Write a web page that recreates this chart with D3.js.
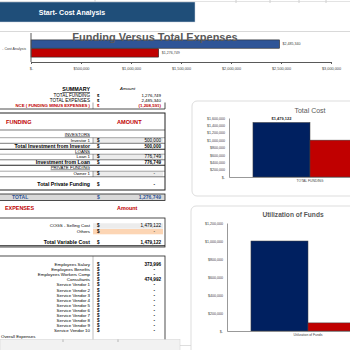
<!DOCTYPE html>
<html>
<head>
<meta charset="utf-8">
<script src="https://cdn.jsdelivr.net/npm/d3@7"></script>
<style>
  body { margin: 0; background: #fff; }
  svg { display: block; font-family: "Liberation Sans", Arial, sans-serif; }
</style>
</head>
<body>
<div id="canvas"></div>
<script>
"use strict"

// DATA
let fveCategories = ["- Cost Analysis"];
let fveSeries = ["Total Expenses", "Total Funding"];
let fveValues = [2485340, 1276749];
let fveTicks = [0, 500000, 1000000, 1500000, 2000000, 2500000, 3000000];

let costCategories = ["TOTAL FUNDING"];
let costSeries = ["Total Cost", "Total Funding"];
let costValues = [1479122, 1000000];
let costTicks = [0, 200000, 400000, 600000, 800000, 1000000, 1200000, 1400000, 1600000];

let useCategories = ["Utilization of Funds"];
let useSeries = ["Used", "Remaining"];
let useValues = [1000000, 90000];
let useTicks = [0, 200000, 400000, 600000, 800000, 1000000, 1200000];

let summaryLabels = ["TOTAL FUNDING", "TOTAL EXPENSES", "NCE ( FUNDING MINUS EXPENSES )"];
let summaryValues = ["1,276,749", "2,485,340", "(1,208,591)"];

let fundingLabels = ["INVESTORS", "Investor 1", "Total Investment from Investor", "LOANS", "Loan 1",
  "Investment from Loan", "PRIVATE FUNDING", "Owner 1", "Total Private Funding"];
let fundingValues = [null, "500,000", "500,000", null, "776,749", "776,749", null, "-", "-"];

let variableLabels = ["COGS - Selling Cost", "Others", "Total Variable Cost"];
let variableValues = ["1,479,122", "-", "1,479,122"];

let fixedLabels = ["Employees Salary", "Employees Benefits", "Employees Workers Comp", "Consultants",
  "Service Vendor 1", "Service Vendor 2", "Service Vendor 3", "Service Vendor 4", "Service Vendor 5",
  "Service Vendor 6", "Service Vendor 7", "Service Vendor 8", "Service Vendor 9", "Service Vendor 10"];
let fixedValues = ["373,996", "-", "-", "474,992", "-", "-", "-", "-", "-", "-", "-", "-", "-", "-"];

// CANVAS
let svgWidth = 350;
let svgHeight = 350;

let svg = d3.select("#canvas")
  .append("svg")
  .attr("width", svgWidth)
  .attr("height", svgHeight);

svg.append("rect")
  .attr("width", svgWidth)
  .attr("height", svgHeight)
  .attr("fill", "white");

let money = function (v) {
  return v === 0 ? "$-" : d3.format("$,")(v);
};

// spreadsheet grid bits at top
svg.append("line")
  .attr("x1", 0).attr("x2", svgWidth).attr("y1", 1.5).attr("y2", 1.5)
  .attr("stroke", "#e3e3e3");
[95, 236, 270, 299, 326].forEach(function (x) {
  svg.append("line")
    .attr("x1", x).attr("x2", x).attr("y1", 0).attr("y2", 3)
    .attr("stroke", "#d0d0d0");
});

// HEADER
svg.append("rect")
  .attr("x", -1).attr("y", 2)
  .attr("width", 196).attr("height", 20)
  .attr("fill", "#1f4e79")
  .attr("stroke", "#c9d3de").attr("stroke-width", 0.5);

svg.append("text")
  .attr("x", 72).attr("y", 14.5)
  .attr("text-anchor", "middle")
  .attr("fill", "white")
  .style("font-size", "7px")
  .style("font-weight", "bold")
  .text("Start- Cost Analysis");

// FUNDING VERSUS TOTAL EXPENSES (horizontal bars)
svg.append("line")
  .attr("x1", 0).attr("x2", svgWidth).attr("y1", 31.5).attr("y2", 31.5)
  .attr("stroke", "#d9d9d9");

let fveX = d3.scaleLinear().domain([0, 3000000]).range([31, 331]);
let fveY = d3.scaleBand().domain(fveCategories).range([38, 59]).padding(0.1);
let fveSub = d3.scaleBand().domain(fveSeries).range([0, fveY.bandwidth()]).paddingInner(0.06);
let fveColors = ["#2f5597", "#c00000"];

svg.selectAll("rect.fve")
  .data(fveValues)
  .join("rect")
  .classed("fve", true)
  .attr("x", fveX(0))
  .attr("y", function (d, i) { return fveY(fveCategories[0]) + fveSub(fveSeries[i]); })
  .attr("width", function (d) { return fveX(d) - fveX(0); })
  .attr("height", fveSub.bandwidth())
  .attr("fill", function (d, i) { return fveColors[i]; })
  .attr("stroke", "#262626")
  .attr("stroke-width", 0.6);

// title sits over the bars, like the sheet does
svg.append("text")
  .attr("x", 155).attr("y", 40.5)
  .attr("text-anchor", "middle")
  .attr("fill", "#595959")
  .style("font-size", "11px")
  .style("font-weight", "bold")
  .text("Funding Versus Total Expenses");

svg.selectAll("text.fveLabel")
  .data(fveValues)
  .join("text")
  .classed("fveLabel", true)
  .attr("x", function (d) { return fveX(d) + 3; })
  .attr("y", function (d, i) { return fveY(fveCategories[0]) + fveSub(fveSeries[i]) + fveSub.bandwidth() / 2; })
  .attr("dominant-baseline", "middle")
  .attr("fill", "#404040")
  .style("font-size", "3.6px")
  .text(function (d) { return money(d); });

let fveAxis = svg.append("g")
  .attr("transform", "translate(0,62)")
  .call(d3.axisBottom(fveX).tickValues(fveTicks).tickFormat(money).tickSize(2).tickSizeOuter(0));
fveAxis.select(".domain").attr("stroke", "#595959").attr("stroke-width", 1);
fveAxis.selectAll(".tick line").attr("stroke", "#595959");
fveAxis.selectAll("text").style("font-size", "3.8px").attr("fill", "#404040").attr("dy", "0.9em");

let fveYAxis = svg.append("g")
  .attr("transform", "translate(31,0)")
  .call(d3.axisLeft(fveY).tickSize(0).tickPadding(5));
fveYAxis.select(".domain").remove();
fveYAxis.selectAll("text").style("font-size", "3.6px").attr("fill", "#404040");
svg.append("line")
  .attr("x1", 31).attr("x2", 31).attr("y1", 33).attr("y2", 62)
  .attr("stroke", "#595959").attr("stroke-width", 1);

// LEFT TABLES
let labelX = 90;
let dollarX = 97;
let valueX = 161;
let boxRight = 165;

function addLabel(y, txt, opts) {
  opts = opts || {};
  let t = svg.append("text")
    .attr("x", opts.x !== undefined ? opts.x : labelX)
    .attr("y", y)
    .attr("text-anchor", opts.anchor || "end")
    .attr("dominant-baseline", "middle")
    .attr("fill", opts.fill || "#000")
    .style("font-size", (opts.size || 4.6) + "px")
    .style("font-weight", opts.bold ? "bold" : "normal")
    .style("font-style", opts.italic ? "italic" : "normal")
    .style("text-decoration", opts.underline ? "underline" : "none")
    .text(txt);
  return t;
}

function addValue(y, v, opts) {
  opts = opts || {};
  if (v === null) return;
  addLabel(y, "$", { x: dollarX, anchor: "start", fill: opts.fill, bold: true, size: opts.size || 4.6 });
  let isDash = v === "-";
  addLabel(y, v, { x: isDash ? valueX - 6 : valueX, anchor: "end", fill: opts.fill, bold: opts.bold, size: opts.size || 4.6 });
}

function shade(y0, y1, color) {
  svg.append("rect")
    .attr("x", 93).attr("y", y0)
    .attr("width", 70).attr("height", y1 - y0)
    .attr("fill", color);
}

function hline(y, w, x0, x1) {
  svg.append("line")
    .attr("x1", x0 === undefined ? 0 : x0).attr("x2", x1 === undefined ? boxRight : x1)
    .attr("y1", y).attr("y2", y)
    .attr("stroke", "#222").attr("stroke-width", w);
}

function vline(x, y0, y1, w) {
  svg.append("line")
    .attr("x1", x).attr("x2", x).attr("y1", y0).attr("y2", y1)
    .attr("stroke", "#222").attr("stroke-width", w);
}

// summary
addLabel(90, "SUMMARY", { bold: true, underline: true, size: 5.4 });
addLabel(89, "Amount", { x: 120, anchor: "start", italic: true, size: 4.4 });
let summaryY = [96, 100.5, 105.5];
summaryLabels.forEach(function (lab, i) {
  let red = i === 2;
  addLabel(summaryY[i], lab, { bold: red, fill: red ? "#c00000" : "#000", size: red ? 4.3 : 4.6 });
  addValue(summaryY[i], summaryValues[i], { bold: red, fill: red ? "#c00000" : "#000", size: 4.4 });
});
hline(109, 0.8);
vline(boxRight, 102.5, 109, 0.8);
vline(93, 102.5, 109, 0.4);

// funding box
svg.append("rect")
  .attr("x", -1).attr("y", 113)
  .attr("width", boxRight + 1).attr("height", 77)
  .attr("fill", "none")
  .attr("stroke", "#222").attr("stroke-width", 1);
hline(130, 0.6);
addLabel(123, "FUNDING", { x: 6, anchor: "start", bold: true, fill: "#c00000", size: 5.6 });
addLabel(123, "AMOUNT", { x: 117, anchor: "start", bold: true, fill: "#c00000", size: 5.6 });

let fundingY = [134.5, 140.5, 146.5, 151.5, 157, 162.5, 167.5, 174, 185];
fundingLabels.forEach(function (lab, i) {
  let header = fundingValues[i] === null;
  let total = lab.indexOf("Total") === 0 || lab === "Investment from Loan";
  if (lab === "Investor 1" || lab === "Loan 1" || lab === "Owner 1") {
    shade(fundingY[i] - 2.6, fundingY[i] + 2.6, "#ececec");
    hline(fundingY[i] - 2.8, 0.4);
    hline(fundingY[i] + 2.8, 0.6);
    vline(93, fundingY[i] - 2.8, fundingY[i] + 2.8, 0.4);
  }
  if (total && i < 8) hline(fundingY[i] + 2.8, 1.1);
  addLabel(fundingY[i], lab, {
    bold: total,
    underline: header,
    size: total ? 5.2 : 4.4
  });
  addValue(fundingY[i], fundingValues[i], { bold: total });
});

// total band
svg.append("rect")
  .attr("x", -1).attr("y", 194)
  .attr("width", boxRight + 1).attr("height", 6.5)
  .attr("fill", "#d9d9d9")
  .attr("stroke", "#222").attr("stroke-width", 0.8);
addLabel(197.3, "TOTAL", { x: 12, anchor: "start", bold: true, fill: "#2f5597", size: 5 });
addValue(197.3, "1,276,749", { bold: true, fill: "#2f5597", size: 5 });

// expenses
addLabel(209, "EXPENSES", { x: 5, anchor: "start", bold: true, fill: "#c00000", size: 5.4 });
addLabel(209, "Amount", { x: 117, anchor: "start", bold: true, fill: "#c00000", size: 5.4 });

svg.append("rect")
  .attr("x", -1).attr("y", 218)
  .attr("width", boxRight + 1).attr("height", 29)
  .attr("fill", "none")
  .attr("stroke", "#222").attr("stroke-width", 0.8);
let variableY = [226, 231.5, 243];
shade(223.3, 228.7, "#ececec");
shade(229, 234.3, "#fcd5b4");
variableLabels.forEach(function (lab, i) {
  let total = i === 2;
  if (total) hline(variableY[i] + 2.8, 1.1, 0, boxRight);
  addLabel(variableY[i], lab, { bold: total, size: total ? 5.2 : 4.4 });
  addValue(variableY[i], variableValues[i], { bold: total });
});

// fixed costs box
svg.append("rect")
  .attr("x", -1).attr("y", 256)
  .attr("width", boxRight + 1).attr("height", 100)
  .attr("fill", "none")
  .attr("stroke", "#222").attr("stroke-width", 0.8);
vline(93, 256, 340, 0.3);
let fixedY = d3.range(fixedLabels.length).map(function (i) { return 265 + i * 5.07; });
fixedLabels.forEach(function (lab, i) {
  addLabel(fixedY[i], lab, { size: 4.4 });
  addValue(fixedY[i], fixedValues[i], { bold: true });
});
addLabel(336.5, "Overall Expenses", { x: 1, anchor: "start", size: 4.4 });

// bottom spreadsheet strip
svg.append("rect")
  .attr("x", 0).attr("y", 339.5)
  .attr("width", 180).attr("height", 11)
  .attr("fill", "#f2f2f2")
  .attr("stroke", "#d0d0d0").attr("stroke-width", 0.5);
[63, 118].forEach(function (x) {
  vline(x, 339.5, 342, 0.3);
});
svg.append("line")
  .attr("x1", 180).attr("x2", 283).attr("y1", 345.5).attr("y2", 345.5)
  .attr("stroke", "#c8c8c8").attr("stroke-width", 0.6);

// VERTICAL BAR CHART helper
function columnChart(opts) {
  svg.append("rect")
    .attr("x", opts.box[0]).attr("y", opts.box[1])
    .attr("width", opts.box[2]).attr("height", opts.box[3])
    .attr("rx", 5)
    .attr("fill", "white")
    .attr("stroke", "#d4d4d4").attr("stroke-width", 0.8);

  svg.append("text")
    .attr("x", opts.titleX).attr("y", opts.titleY)
    .attr("text-anchor", "middle")
    .attr("fill", "#595959")
    .style("font-size", opts.titleSize + "px")
    .style("font-weight", opts.titleBold ? "bold" : "normal")
    .text(opts.title);

  let y = d3.scaleLinear().domain([0, d3.max(opts.ticks)]).range(opts.yRange);
  let x = d3.scaleBand().domain(opts.categories).range(opts.xRange).paddingInner(0).paddingOuter(0.21);
  let sub = d3.scaleBand().domain(opts.series).range([0, x.bandwidth()]);

  let yAxis = svg.append("g")
    .attr("transform", "translate(" + opts.xRange[0] + ",0)")
    .call(d3.axisLeft(y).tickValues(opts.ticks).tickFormat(money).tickSize(0).tickPadding(4));
  yAxis.select(".domain").attr("stroke", "#7f7f7f").attr("stroke-width", 0.8);
  yAxis.selectAll("text").style("font-size", "3.6px").attr("fill", "#404040");

  svg.selectAll("rect." + opts.cls)
    .data(opts.values)
    .join("rect")
    .classed(opts.cls, true)
    .attr("x", function (d, i) { return x(opts.categories[0]) + sub(opts.series[i]); })
    .attr("y", function (d) { return y(d); })
    .attr("width", sub.bandwidth())
    .attr("height", function (d) { return y(0) - y(d); })
    .attr("fill", function (d, i) { return opts.colors[i]; })
    .attr("stroke", "#404040")
    .attr("stroke-width", 0.5);

  let xAxis = svg.append("g")
    .attr("transform", "translate(0," + opts.yRange[0] + ")")
    .call(d3.axisBottom(x).tickSize(0).tickPadding(3));
  xAxis.select(".domain").attr("stroke", "#7f7f7f").attr("stroke-width", 0.8);
  xAxis.selectAll("text").style("font-size", "3.4px").attr("fill", "#404040");

  if (opts.labelFirst) {
    svg.append("text")
      .attr("x", x(opts.categories[0]) + sub(opts.series[0]) + sub.bandwidth() / 2)
      .attr("y", y(opts.values[0]) - 2)
      .attr("text-anchor", "middle")
      .attr("fill", "#262626")
      .style("font-size", "4px")
      .style("font-weight", "bold")
      .text(money(opts.values[0]));
  }
}

columnChart({
  cls: "cost",
  box: [192, 101, 175, 95],
  title: "Total Cost", titleX: 310, titleY: 112.5, titleSize: 7, titleBold: false,
  categories: costCategories, series: costSeries, values: costValues, ticks: costTicks,
  colors: ["#002060", "#c00000"],
  xRange: [229, 391], yRange: [177, 118],
  labelFirst: true
});

columnChart({
  cls: "use",
  box: [191, 206, 175, 160],
  title: "Utilization of Funds", titleX: 293, titleY: 216.5, titleSize: 6.6, titleBold: true,
  categories: useCategories, series: useSeries, values: useValues, ticks: useTicks,
  colors: ["#002060", "#c00000"],
  xRange: [227, 389], yRange: [331, 223],
  labelFirst: false
});
</script>
</body>
</html>
